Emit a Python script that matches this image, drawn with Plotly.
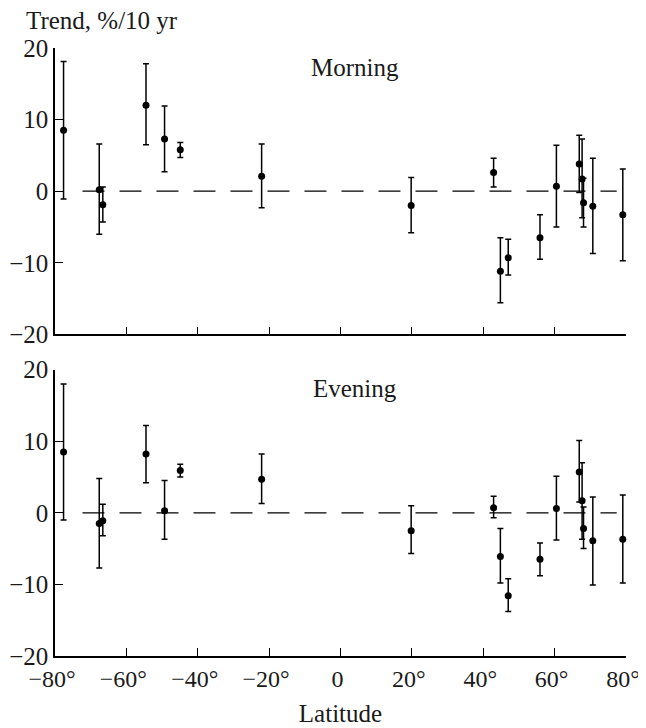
import plotly.graph_objects as go
from plotly.subplots import make_subplots

# Latitudes of stations (degrees)
lat = [-77.6, -67.6, -66.6, -54.5, -49.3, -44.9, -22.1, 19.8, 42.9, 44.8, 47.0,
       55.9, 60.5, 66.9, 67.7, 68.1, 70.7, 79.1]

# Morning trend (%/10 yr) with upper / lower error limits
morning = [8.5, 0.2, -1.9, 12.0, 7.3, 5.8, 2.1, -2.0, 2.6, -11.2, -9.3,
           -6.5, 0.7, 3.8, 1.7, -1.6, -2.1, -3.3]
morning_hi = [18.1, 6.6, 0.6, 17.8, 11.9, 6.8, 6.6, 1.9, 4.6, -6.5, -6.7,
              -3.3, 6.4, 7.8, 7.3, 1.8, 4.6, 3.1]
morning_lo = [-1.1, -6.0, -4.3, 6.5, 2.7, 4.7, -2.3, -5.8, 0.6, -15.6, -11.7,
              -9.5, -5.0, -0.2, -3.7, -5.0, -8.7, -9.7]

# Evening trend (%/10 yr) with upper / lower error limits
evening = [8.5, -1.5, -1.1, 8.2, 0.3, 5.9, 4.7, -2.5, 0.7, -6.1, -11.6,
           -6.5, 0.6, 5.7, 1.7, -2.2, -3.9, -3.7]
evening_hi = [18.0, 4.8, 1.2, 12.2, 4.5, 6.8, 8.2, 1.0, 2.3, -2.2, -9.2,
              -4.2, 5.1, 10.1, 7.0, 0.8, 2.2, 2.5]
evening_lo = [-1.0, -7.7, -3.2, 4.2, -3.7, 5.0, 1.3, -5.7, -0.7, -9.8, -13.8,
              -8.8, -3.8, 1.5, -3.7, -5.0, -10.1, -9.8]

x_ticks = [-80, -60, -40, -20, 0, 20, 40, 60, 80]
x_ticktext = ["\u221280°", "\u221260°", "\u221240°", "\u221220°", "0", "20°", "40°", "60°", "80°"]
y_ticks = [-20, -10, 0, 10, 20]
y_ticktext = ["\u221220", "\u221210", "0", "10", "20"]

zero_line_x = [-72.3, 77.4]

FONT = "'Liberation Serif', 'Times New Roman', Times, serif"
FS = 25
TXT = "#1a1a1a"

fig = make_subplots(rows=2, cols=1, vertical_spacing=0.058)

panels = [(morning, morning_hi, morning_lo, "Morning"),
          (evening, evening_hi, evening_lo, "Evening")]

for i, (vals, hi, lo, name) in enumerate(panels, start=1):
    plus = [h - v for h, v in zip(hi, vals)]
    minus = [v - l for v, l in zip(vals, lo)]
    fig.add_trace(go.Scatter(
        x=lat, y=vals, mode="markers",
        marker=dict(color="black", size=7),
        error_y=dict(type="data", symmetric=False, array=plus, arrayminus=minus,
                     color="black", thickness=1.5, width=3),
        showlegend=False, cliponaxis=False), row=i, col=1)
    fig.add_shape(type="line", x0=zero_line_x[0], x1=zero_line_x[1], y0=0, y1=0,
                  line=dict(color="black", width=1.3, dash="22px,15px"),
                  row=i, col=1)
    fig.add_annotation(x=4, y=17.3, text=name, showarrow=False,
                       font=dict(family=FONT, size=FS, color=TXT),
                       xref=f"x{'' if i == 1 else i}", yref=f"y{'' if i == 1 else i}")
    fig.update_xaxes(range=[-80, 80], tickvals=x_ticks, ticktext=x_ticktext,
                     showticklabels=(i == 2), ticks="inside", ticklen=8,
                     tickwidth=1.3, tickcolor="black", showline=True,
                     linecolor="black", linewidth=1.5, showgrid=False,
                     tickfont=dict(family=FONT, size=24, color=TXT),
                     ticklabelshift=-3,
                     zeroline=False, automargin=False, row=i, col=1)
    fig.update_yaxes(range=[-20, 20], tickvals=y_ticks, ticktext=y_ticktext,
                     ticks="inside", ticklen=8, tickwidth=1.3, tickcolor="black",
                     showline=True, linecolor="black", linewidth=1.5,
                     showgrid=False, zeroline=False, automargin=False,
                     row=i, col=1)

fig.update_xaxes(title=dict(text="Latitude", font=dict(family=FONT, size=FS, color=TXT),
                            standoff=14), row=2, col=1)

fig.add_annotation(x=-0.054, y=1.046, xref="paper", yref="paper", xanchor="left",
                   yanchor="middle", text="Trend, %/10 yr", showarrow=False,
                   font=dict(family=FONT, size=FS, color=TXT))

fig.update_layout(
    width=638, height=720,
    margin=dict(l=47, r=20, t=40, b=72, autoexpand=False),
    paper_bgcolor="white", plot_bgcolor="white",
    font=dict(family=FONT, size=FS, color=TXT),
)

fig.write_html("out.html")
